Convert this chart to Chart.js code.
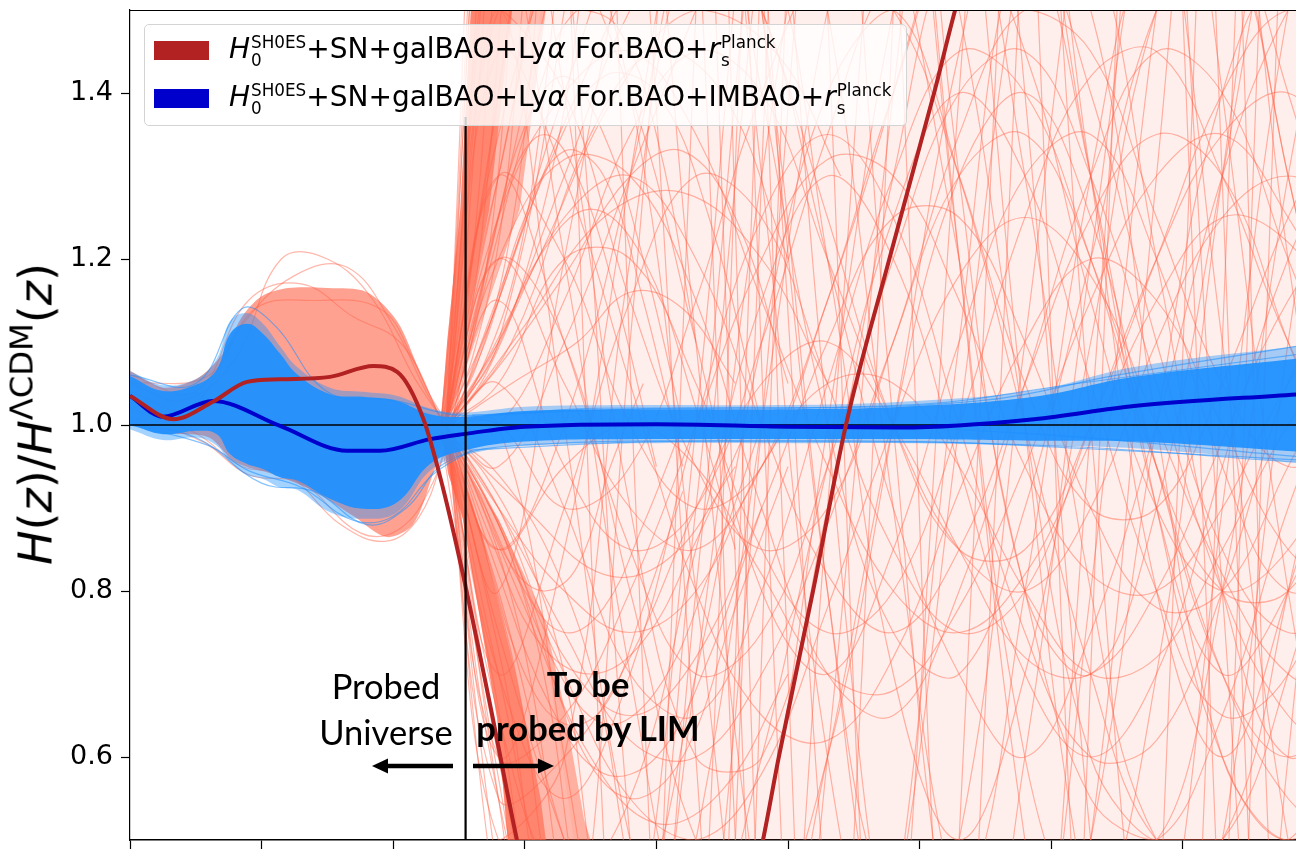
<!DOCTYPE html>
<html><head><meta charset="utf-8">
<script src="https://cdn.jsdelivr.net/npm/chart.js@4.4.1/dist/chart.umd.min.js"></script>
<style>
body{margin:0;background:#fff;}
#wrap{position:relative;width:1296px;height:858px;overflow:hidden;background:#fff;}
#c{position:absolute;left:0;top:0;}
#ytitle{position:absolute;left:38px;top:414px;transform:translate(-50%,-50%) rotate(-90deg);white-space:nowrap;font-family:'DejaVu Sans',sans-serif;font-size:46px;line-height:46px;color:#000;}
#ytitle sup{font-size:0.7em;vertical-align:baseline;position:relative;top:-0.6em;}
#legend{position:absolute;left:144px;top:24px;width:761px;height:100px;background:rgba(255,255,255,0.8);border:1px solid #d4d4d4;border-radius:5px;font-family:'DejaVu Sans',sans-serif;font-size:28px;color:#000;}
.patch{position:absolute;left:9px;width:55px;height:19px;}
.lbl{position:absolute;left:84px;white-space:nowrap;line-height:28px;}
.ss{display:inline-block;vertical-align:-0.5em;font-size:0.6em;line-height:1.1;margin-left:1px;}
.ss span{display:block;}
.ann{position:absolute;width:300px;text-align:center;font-family:Lato,'Open Sans',sans-serif;font-size:34.5px;color:#000;white-space:nowrap;}
#arrows{position:absolute;left:0;top:0;}
</style></head><body>
<div id="wrap">
<canvas id="c" width="1296" height="858"></canvas>
<div id="ytitle"><i>H</i>(<i>z</i>)/<i>H</i><sup>ΛCDM</sup>(<i>z</i>)</div>
<div id="legend">
 <div class="patch" style="top:16px;background:#b22222"></div>
 <div class="lbl" style="top:8px"><i>H</i><span class="ss"><span>SH0ES</span><span>0</span></span>+SN+galBAO+Ly<i>α</i> For.BAO+<i>r</i><span class="ss"><span>Planck</span><span>s</span></span></div>
 <div class="patch" style="top:64px;background:#0000cd"></div>
 <div class="lbl" style="top:56px"><i>H</i><span class="ss"><span>SH0ES</span><span>0</span></span>+SN+galBAO+Ly<i>α</i> For.BAO+IMBAO+<i>r</i><span class="ss"><span>Planck</span><span>s</span></span></div>
</div>
<div class="ann" style="left:236px;top:663px;line-height:46px;">Probed<br>Universe</div>
<div class="ann" style="left:438px;top:662px;line-height:44px;font-weight:bold;">To be<br>probed by LIM</div>
<svg id="arrows" width="1296" height="858">
 <line x1="386" y1="766" x2="453" y2="766" stroke="#000" stroke-width="4.5"/>
 <polygon points="372,766 388,758.5 388,773.5" fill="#000"/>
 <line x1="473" y1="766" x2="540" y2="766" stroke="#000" stroke-width="4.5"/>
 <polygon points="554,766 538,758.5 538,773.5" fill="#000"/>
</svg>
</div>
<script>
// ---------- axis ticks ----------
const xTicks = [0, 1, 2, 3, 4, 5, 6, 7, 8];
const yTicks = [0.6, 0.8, 1.0, 1.2, 1.4];

// ---------- mean curves ----------
const blueMeanZ = [0, 0.25, 0.63, 1.14, 1.65, 1.90, 2.28, 2.53, 3.0, 4.0, 5.0, 5.86, 6.87, 7.63, 8.87];
const blueMeanH = [1.035, 1.010, 1.029, 0.999, 0.969, 0.969, 0.983, 0.989, 0.998, 1.001, 0.998, 0.997, 1.007, 1.023, 1.037];
const redMeanZ = [0, 0.33, 0.63, 0.89, 1.14, 1.52, 1.85, 2.03, 2.23, 2.38, 2.53, 2.74, 2.94, 3.3, 3.9, 4.4, 4.81, 4.93, 5.19, 5.44, 5.77, 6.11, 6.27, 7.0, 8.0, 9.0];
const redMeanH = [1.035, 1.007, 1.028, 1.052, 1.055, 1.058, 1.071, 1.064, 1.007, 0.923, 0.82, 0.66, 0.5, 0.25, 0.08, 0.2, 0.5, 0.6, 0.8, 1.0, 1.2, 1.4, 1.5, 1.9, 2.4, 2.9];

// ---------- blue sample band ----------
const blueBandZ = [0, 0.25, 0.51, 0.66, 0.76, 0.89, 1.01, 1.14, 1.27, 1.52, 1.77, 2.03, 2.28, 2.53, 3.0, 4.0, 5.0, 5.86, 6.87, 7.63, 8.87];
const blueCoreHi = [1.059, 1.041, 1.049, 1.067, 1.110, 1.122, 1.110, 1.086, 1.061, 1.037, 1.034, 1.029, 1.013, 1.010, 1.017, 1.019, 1.019, 1.022, 1.034, 1.058, 1.080];
const blueCoreLo = [1.001, 0.989, 0.993, 0.989, 0.965, 0.953, 0.947, 0.937, 0.933, 0.911, 0.899, 0.907, 0.953, 0.969, 0.980, 0.983, 0.983, 0.983, 0.981, 0.980, 0.968];
const blueOuterHi = [1.065, 1.048, 1.056, 1.080, 1.125, 1.135, 1.122, 1.095, 1.070, 1.045, 1.040, 1.035, 1.020, 1.015, 1.022, 1.024, 1.024, 1.028, 1.042, 1.070, 1.095];
const blueOuterLo = [0.995, 0.982, 0.985, 0.975, 0.955, 0.940, 0.935, 0.925, 0.922, 0.895, 0.887, 0.895, 0.945, 0.963, 0.975, 0.978, 0.978, 0.978, 0.975, 0.972, 0.955];
const blueLines = [
 [[0,1.06],[0.5,1.05],[0.85,1.14],[1.1,1.12],[1.5,1.04],[2.0,1.03],[2.5,1.012],[3.5,1.02],[5,1.02],[6.5,1.03],[7.5,1.06],[8.87,1.095]],
 [[0,1.0],[0.5,0.985],[1.0,0.93],[1.4,0.92],[1.8,0.88],[2.1,0.9],[2.4,0.955],[3.0,0.976],[5,0.98],[7,0.975],[8.87,0.955]],
 [[0,1.0],[0.6,0.975],[0.9,0.945],[1.3,0.925],[1.7,0.885],[2.0,0.89],[2.3,0.94],[2.6,0.97]],
 [[2.6,0.97],[4,0.98],[6,0.98],[7.2,0.972],[8.87,0.958]],
 [[2.6,1.012],[4,1.02],[6,1.025],[7.2,1.05],[8.87,1.085]],
 [[2.6,1.0],[5,1.0],[6.8,0.99],[8.87,0.962]]
];

// ---------- red samples: dense regions ----------
const redLeftBand = [[0,1.065],[0.25,1.045],[0.5,1.055],[0.7,1.085],[0.85,1.13],[1.0,1.155],[1.2,1.165],[1.5,1.165],[1.8,1.16],[2.03,1.125],[2.2,1.065],[2.33,1.02],[2.4,1.005],[2.4,0.99],[2.3,0.94],[2.15,0.88],[1.95,0.865],[1.7,0.89],[1.4,0.92],[1.1,0.94],[0.8,0.955],[0.6,0.985],[0.3,0.99],[0,1.0]];
const redFanUpDense = [[2.36,1.0],[2.41,1.1],[2.51,1.26],[2.59,1.5],[2.62,1.62],[2.97,1.62],[2.9,1.5],[2.73,1.26],[2.53,1.1],[2.4,1.0]];
const redFanUpOuter = [[2.36,1.0],[2.41,1.1],[2.51,1.26],[2.59,1.5],[2.62,1.62],[3.25,1.62],[3.16,1.5],[2.96,1.26],[2.62,1.1],[2.45,1.02],[2.38,1.0]];
const redFanDownDense = [[2.36,0.995],[2.42,0.94],[2.53,0.887],[2.79,0.646],[2.87,0.5],[2.9,0.45],[3.2,0.45],[3.12,0.55],[2.93,0.7],[2.67,0.87],[2.45,0.97]];
const redFanDownOuter = [[2.36,0.995],[2.42,0.94],[2.53,0.887],[2.79,0.646],[2.87,0.5],[2.9,0.45],[3.6,0.45],[3.45,0.525],[3.3,0.66],[3.15,0.766],[2.8,0.887],[2.6,0.935],[2.42,0.985]];
const redBackdrop = [[2.45,1.02],[2.62,1.1],[2.94,1.26],[3.12,1.5],[3.2,1.62],[9.0,1.62],[9.0,0.4],[3.45,0.4],[3.35,0.525],[3.12,0.766],[2.79,0.887],[2.6,0.935],[2.45,0.98]];

// ---------- red samples: individual curves ----------
const redLeftLines = [
 [[0,1.05],[0.4,1.03],[0.8,1.08],[1.15,1.2],[1.5,1.2],[1.85,1.15],[2.15,1.06],[2.4,1.0]],
 [[0,1.04],[0.45,1.02],[0.85,1.12],[1.25,1.18],[1.65,1.19],[2.0,1.12],[2.25,1.04],[2.4,1.0]],
 [[0,1.06],[0.5,1.04],[0.9,1.15],[1.3,1.17],[1.7,1.13],[2.05,1.1],[2.3,1.03],[2.42,1.0]],
 [[0,1.02],[0.5,0.99],[0.85,0.95],[1.2,0.94],[1.6,0.88],[1.95,0.86],[2.2,0.89],[2.4,0.97]],
 [[0,1.01],[0.55,0.98],[0.9,0.94],[1.3,0.93],[1.75,0.87],[2.05,0.875],[2.3,0.93],[2.42,0.99]],
 [[0,1.05],[0.6,1.06],[0.95,1.14],[1.4,1.15],[1.9,1.14],[2.15,1.08],[2.35,1.01]]
];
const redFanUpLines = [
 [[2.36,1.0],[2.45,1.15],[2.52,1.32],[2.58,1.5],[2.62,1.62]],
 [[2.36,1.0],[2.47,1.14],[2.56,1.32],[2.63,1.5],[2.67,1.62]],
 [[2.37,1.0],[2.5,1.12],[2.6,1.3],[2.69,1.5],[2.73,1.6]],
 [[2.38,1.0],[2.52,1.1],[2.65,1.28],[2.75,1.5],[2.8,1.6]],
 [[2.38,1.0],[2.55,1.1],[2.7,1.27],[2.82,1.5],[2.87,1.6]],
 [[2.39,1.0],[2.58,1.09],[2.76,1.25],[2.9,1.5],[2.95,1.6]],
 [[2.4,1.0],[2.6,1.08],[2.82,1.24],[2.98,1.5],[3.03,1.6]],
 [[2.4,1.0],[2.63,1.07],[2.88,1.22],[3.06,1.45],[3.12,1.6]],
 [[2.41,1.0],[2.68,1.07],[2.95,1.2],[3.15,1.4],[3.25,1.55]],
 [[2.42,1.0],[2.7,1.06],[3.0,1.18],[3.3,1.38],[3.45,1.55]],
 [[2.42,1.0],[2.75,1.08],[3.1,1.2],[3.5,1.26],[3.9,1.2],[4.3,1.02],[4.6,0.85]],
 [[2.42,1.0],[2.8,1.07],[3.3,1.18],[3.8,1.3],[4.2,1.33],[4.6,1.25],[5.0,1.05]],
 [[2.43,1.0],[2.9,1.05],[3.4,1.1],[3.8,1.16],[4.2,1.14],[4.6,1.05]],
 [[2.42,1.0],[2.7,1.1],[3.0,1.25],[3.3,1.33],[3.6,1.3],[3.9,1.15],[4.2,0.95]],
 [[2.42,1.0],[2.9,1.1],[3.5,1.35],[4.0,1.45],[4.5,1.4],[5.0,1.2]],
 [[2.45,1.0],[2.8,1.15],[3.2,1.32],[3.6,1.42],[4.0,1.4],[4.4,1.25],[4.8,1.0]],
 [[2.45,1.0],[2.75,1.2],[3.1,1.4],[3.4,1.5],[3.7,1.48],[4.0,1.35],[4.3,1.1]],
 [[2.44,1.0],[2.7,1.18],[3.0,1.36],[3.3,1.42],[3.6,1.35],[3.9,1.2],[4.2,1.0]],
 [[2.45,1.0],[2.9,1.2],[3.4,1.4],[3.9,1.55],[4.3,1.6]],
 [[2.44,1.0],[2.65,1.15],[2.9,1.3],[3.15,1.35],[3.4,1.3],[3.7,1.15],[4.0,0.95]],
 [[2.45,1.0],[3.0,1.12],[3.6,1.25],[4.2,1.28],[4.8,1.2],[5.3,1.05]],
 [[2.46,1.0],[3.1,1.2],[3.7,1.4],[4.3,1.5],[4.9,1.45],[5.4,1.3]]
];
const redFanDownLines = [
 [[2.36,0.99],[2.45,0.9],[2.6,0.76],[2.75,0.62],[2.88,0.5],[2.93,0.44]],
 [[2.37,0.99],[2.48,0.91],[2.65,0.78],[2.82,0.64],[2.95,0.5],[3.0,0.44]],
 [[2.38,0.99],[2.52,0.92],[2.7,0.8],[2.9,0.65],[3.03,0.5],[3.08,0.44]],
 [[2.39,0.99],[2.56,0.92],[2.78,0.8],[2.98,0.66],[3.12,0.5],[3.17,0.44]],
 [[2.4,0.99],[2.6,0.93],[2.85,0.82],[3.07,0.67],[3.22,0.5],[3.27,0.44]],
 [[2.41,0.99],[2.65,0.93],[2.92,0.83],[3.17,0.68],[3.33,0.5],[3.38,0.44]],
 [[2.42,0.99],[2.7,0.94],[3.0,0.85],[3.3,0.7],[3.48,0.5],[3.53,0.44]],
 [[2.42,0.99],[2.8,0.94],[3.2,0.84],[3.55,0.68],[3.75,0.5],[3.8,0.44]],
 [[2.42,0.99],[2.7,0.9],[3.0,0.8],[3.3,0.75],[3.6,0.78],[3.9,0.88],[4.2,1.0]],
 [[2.42,0.99],[2.8,0.88],[3.2,0.72],[3.6,0.64],[4.0,0.68],[4.4,0.82],[4.8,1.0]],
 [[2.42,0.99],[2.65,0.92],[2.9,0.83],[3.15,0.8],[3.4,0.83],[3.65,0.95],[3.9,1.05]],
 [[2.42,0.99],[2.9,0.85],[3.4,0.62],[3.8,0.55],[4.2,0.6],[4.6,0.78],[5.0,0.95]],
 [[2.42,0.99],[3.0,0.9],[3.6,0.82],[4.1,0.84],[4.6,0.95]],
 [[2.44,0.99],[2.8,0.82],[3.2,0.66],[3.6,0.58],[4.0,0.6],[4.4,0.72],[4.8,0.9]],
 [[2.44,0.99],[2.75,0.86],[3.1,0.74],[3.5,0.7],[3.9,0.74],[4.3,0.86],[4.7,1.0]],
 [[2.45,0.99],[3.0,0.78],[3.5,0.6],[4.0,0.52],[4.5,0.56],[5.0,0.7]],
 [[2.44,0.99],[2.7,0.85],[3.0,0.7],[3.3,0.64],[3.6,0.66],[3.9,0.78],[4.2,0.92]]
];
const wanderZ = [2.4, 2.8, 3.3, 3.8, 4.3, 4.8, 5.3, 5.8, 6.3, 6.8, 7.3, 7.8, 8.3, 8.8, 9.3];
const wanderH = [
 [1.0, 1.1, 1.3, 1.5, 1.6, 1.5, 1.2, 0.9, 0.7, 0.6, 0.75, 1.0, 1.3, 1.5, 1.6],
 [1.0, 0.9, 0.75, 0.62, 0.6, 0.7, 0.88, 1.1, 1.3, 1.35, 1.2, 0.95, 0.7, 0.55, 0.5],
 [1.0, 1.2, 1.32, 1.3, 1.15, 0.9, 0.7, 0.65, 0.8, 1.05, 1.3, 1.45, 1.4, 1.2, 1.0],
 [1.0, 1.4, 2.0, 2.6, 2.4, 1.6, 0.4, -0.4, -0.5, 0.0, 1.0, 2.0, 2.5, 2.5, 2.3],
 [1.0, 0.6, 0.2, -0.3, 0.2, 1.0, 1.9, 2.4, 2.2, 1.4, 0.5, -0.2, -0.3, 0.4, 1.2],
 [1.0, 0.8, 0.5, 0.3, 0.9, 1.7, 2.2, 2.0, 1.3, 0.8, 0.7, 0.9, 1.3, 1.7, 1.9],
 [1.0, 1.3, 1.6, 1.4, 0.8, 0.2, 0.0, 0.4, 1.1, 1.6, 1.5, 1.0, 0.6, 0.5, 0.7],
 [1.0, 0.7, 0.55, 0.7, 1.0, 1.25, 1.35, 1.25, 1.0, 0.75, 0.6, 0.62, 0.8, 1.05, 1.2],
 [1.0, 1.5, 1.4, 1.15, 0.95, 0.85, 0.9, 1.1, 1.35, 1.5, 1.45, 1.25, 1.05, 0.95, 1.0],
 [1.0, 0.6, 0.85, 1.3, 1.8, 2.3, 2.5, 2.0, 1.2, 0.5, 0.1, 0.3, 0.9, 1.5, 1.8],
 [1.0, 1.0, 0.6, 0.1, -0.3, -0.1, 0.6, 1.4, 1.9, 1.8, 1.3, 0.8, 0.6, 0.8, 1.1],
 [1.0, 1.2, 1.05, 0.9, 0.85, 0.95, 1.15, 1.4, 1.7, 2.1, 2.3, 2.0, 1.4, 0.8, 0.4],
 [1.0, 0.8, 1.2, 1.6, 1.9, 1.5, 0.8, 0.3, 0.2, 0.6, 1.2, 1.7, 1.9, 1.6, 1.1],
 [1.0, 1.6, 1.2, 0.7, 0.35, 0.3, 0.6, 1.0, 1.3, 1.4, 1.25, 0.95, 0.7, 0.6, 0.7],
 [1.0, 1.0, 1.15, 1.35, 1.45, 1.4, 1.2, 1.0, 0.85, 0.8, 0.9, 1.1, 1.25, 1.3, 1.25],
 [1.0, 0.9, 0.8, 0.75, 0.8, 0.95, 1.05, 1.05, 0.95, 0.8, 0.7, 0.72, 0.85, 1.0, 1.1],
 [1.0, 2.0, 2.4, 1.8, 0.6, -0.4, -0.6, 0.2, 1.4, 2.3, 2.6, 2.0, 0.8, -0.2, -0.5],
 [1.0, 0.55, 0.3, 1.1, 2.0, 2.5, 2.0, 1.0, 0.3, 0.1, 0.5, 1.3, 2.1, 2.4, 2.2],
 [1.0, 1.3, 1.1, 0.85, 0.7, 0.75, 0.95, 1.2, 1.4, 1.45, 1.3, 1.05, 0.8, 0.65, 0.6],
 [1.0, 0.7, 0.9, 1.15, 1.3, 1.25, 1.05, 0.85, 0.75, 0.8, 1.0, 1.2, 1.35, 1.4, 1.3],
 [1.0, 1.1, 1.5, 2.1, 2.4, 1.9, 1.0, 0.3, 0.0, 0.2, 0.8, 1.5, 2.0, 2.2, 2.0],
 [1.0, 0.55, 0.1, 0.2, 0.7, 1.3, 1.7, 1.8, 1.5, 1.0, 0.6, 0.5, 0.8, 1.3, 1.7],
 [1.0, 1.45, 1.3, 1.05, 0.8, 0.65, 0.62, 0.72, 0.92, 1.1, 1.2, 1.15, 1.0, 0.85, 0.8],
 [1.0, 0.6, 0.65, 0.8, 1.0, 1.2, 1.32, 1.3, 1.15, 0.95, 0.82, 0.8, 0.9, 1.05, 1.15],
 [1.0, 2.0, 1.6, 0.5, -0.2, 0.0, 0.9, 1.9, 2.4, 2.0, 1.0, 0.2, 0.0, 0.6, 1.5],
 [1.0, 0.5, 0.6, 1.2, 1.6, 1.6, 1.2, 0.7, 0.5, 0.7, 1.1, 1.5, 1.6, 1.3, 0.9],
 [1.0, 1.0, 0.9, 0.95, 1.15, 1.4, 1.55, 1.5, 1.3, 1.05, 0.9, 0.9, 1.05, 1.25, 1.4],
 [1.0, 1.25, 1.4, 1.45, 1.35, 1.15, 0.95, 0.8, 0.75, 0.82, 0.98, 1.15, 1.25, 1.22, 1.1],
 [1.0, 0.55, 0.6, 0.72, 0.9, 1.05, 1.1, 1.0, 0.85, 0.72, 0.7, 0.8, 0.98, 1.15, 1.25],
 [1.0, 1.8, 1.4, 0.9, 0.6, 0.6, 0.9, 1.3, 1.6, 1.6, 1.3, 0.9, 0.6, 0.5, 0.6],
 [1.0, 0.45, 0.0, 0.1, 0.8, 1.6, 2.2, 2.3, 1.8, 1.0, 0.4, 0.2, 0.5, 1.1, 1.6],
 [1.0, 1.05, 1.2, 1.2, 1.05, 0.85, 0.75, 0.8, 1.0, 1.25, 1.42, 1.45, 1.3, 1.1, 0.95],
 [1.0, 0.95, 1.1, 1.3, 1.5, 1.7, 1.8, 1.6, 1.2, 0.8, 0.55, 0.5, 0.65, 0.9, 1.1],
 [1.0, 1.5, 1.0, 0.5, 0.3, 0.5, 1.0, 1.5, 1.8, 1.7, 1.3, 0.9, 0.7, 0.8, 1.0],
 [1.0, 0.85, 0.95, 1.0, 0.95, 0.82, 0.7, 0.68, 0.78, 0.95, 1.15, 1.3, 1.35, 1.25, 1.1],
 [1.0, 1.15, 0.95, 0.85, 0.9, 1.1, 1.35, 1.55, 1.6, 1.45, 1.15, 0.9, 0.8, 0.85, 1.0],
 [1.0, 1.3, 1.7, 2.2, 2.0, 1.3, 0.6, 0.3, 0.5, 1.1, 1.7, 2.0, 1.8, 1.2, 0.7],
 [1.0, 0.7, 0.4, 0.4, 0.7, 1.1, 1.4, 1.5, 1.3, 1.0, 0.7, 0.5, 0.5, 0.7, 1.0],
 [1.0, 1.2, 1.1, 0.8, 0.5, 0.4, 0.6, 1.0, 1.45, 1.7, 1.6, 1.2, 0.8, 0.6, 0.7],
 [1.0, 0.85, 1.0, 1.3, 1.65, 1.8, 1.5, 0.9, 0.4, 0.2, 0.5, 1.0, 1.4, 1.55, 1.4],
 [1.0, 1.35, 1.55, 1.4, 1.1, 0.8, 0.7, 0.85, 1.1, 1.3, 1.35, 1.2, 0.95, 0.8, 0.85],
 [1.0, 0.65, 0.45, 0.55, 0.85, 1.15, 1.3, 1.2, 0.95, 0.7, 0.6, 0.7, 0.95, 1.2, 1.35],
 [1.0, 1.7, 2.2, 1.9, 1.1, 0.4, 0.1, 0.4, 1.0, 1.6, 1.9, 1.7, 1.1, 0.5, 0.2],
 [1.0, 0.4, 0.0, 0.3, 1.0, 1.8, 2.2, 1.9, 1.2, 0.6, 0.4, 0.7, 1.3, 1.8, 2.0],
 [1.0, 1.1, 1.25, 1.3, 1.2, 1.0, 0.82, 0.75, 0.85, 1.05, 1.25, 1.35, 1.3, 1.1, 0.9],
 [1.0, 0.9, 0.72, 0.65, 0.72, 0.9, 1.1, 1.25, 1.25, 1.1, 0.9, 0.78, 0.8, 0.95, 1.1],
 [1.0, 1.25, 1.6, 1.9, 1.8, 1.4, 1.0, 0.75, 0.7, 0.9, 1.2, 1.5, 1.6, 1.4, 1.1],
 [1.0, 0.75, 0.5, 0.3, 0.35, 0.6, 0.95, 1.25, 1.4, 1.3, 1.05, 0.8, 0.65, 0.7, 0.9],
 [1.0, 1.05, 0.9, 0.7, 0.65, 0.8, 1.05, 1.3, 1.45, 1.4, 1.2, 0.95, 0.8, 0.8, 0.95],
 [1.0, 1.4, 1.9, 2.3, 2.1, 1.5, 0.8, 0.4, 0.4, 0.8, 1.3, 1.6, 1.6, 1.3, 0.9],
 [1.0, 0.6, 0.3, 0.2, 0.5, 1.0, 1.5, 1.8, 1.7, 1.3, 0.8, 0.5, 0.5, 0.8, 1.2],
 [1.0, 1.15, 1.4, 1.6, 1.65, 1.5, 1.25, 1.0, 0.85, 0.85, 1.0, 1.2, 1.4, 1.5, 1.45],
 [1.0, 0.88, 0.7, 0.55, 0.5, 0.58, 0.78, 1.0, 1.18, 1.25, 1.18, 1.0, 0.82, 0.7, 0.68],
 [1.0, 1.3, 1.2, 1.0, 0.9, 0.95, 1.15, 1.4, 1.6, 1.6, 1.4, 1.1, 0.85, 0.75, 0.8]
];
const redSteepLines = [
 [[4.0,2.5],[4.35,1.5],[4.6,0.5],[4.9,-0.3]],
 [[4.1,-0.3],[4.4,0.5],[4.65,1.5],[4.95,2.4]],
 [[4.3,2.6],[4.55,1.5],[4.75,0.5],[5.0,-0.4]],
 [[4.4,-0.4],[4.6,0.5],[4.85,1.5],[5.1,2.5]],
 [[7.7,2.5],[8.0,1.5],[8.25,0.5],[8.5,-0.3]],
 [[7.9,-0.3],[8.15,0.5],[8.4,1.5],[8.7,2.5]],
 [[8.2,2.5],[8.45,1.5],[8.65,0.5],[8.9,-0.3]],
 [[6.2,-0.3],[6.45,0.5],[6.75,1.5],[7.0,2.4]],
 [[3.5,2.5],[3.7,1.5],[3.95,0.5],[4.2,-0.3]],
 [[5.5,2.5],[5.85,1.5],[6.1,0.5],[6.4,-0.3]],
 [[7.0,-0.3],[7.25,0.5],[7.5,1.5],[7.8,2.4]],
 [[4.5,2.5],[4.7,1.5],[4.95,0.5],[5.2,-0.3]],
 [[4.2,2.6],[4.45,1.5],[4.68,0.5],[4.95,-0.4]],
 [[4.55,-0.4],[4.75,0.5],[4.98,1.5],[5.25,2.5]],
 [[4.35,-0.3],[4.55,0.5],[4.78,1.5],[5.0,2.4]],
 [[4.6,2.6],[4.82,1.5],[5.05,0.5],[5.3,-0.4]],
 [[8.0,2.6],[8.25,1.5],[8.5,0.5],[8.75,-0.4]],
 [[8.1,-0.4],[8.35,0.5],[8.58,1.5],[8.85,2.5]],
 [[8.3,-0.3],[8.5,0.5],[8.72,1.5],[9.0,2.5]],
 [[7.6,-0.3],[7.85,0.5],[8.1,1.5],[8.35,2.5]],
 [[5.0,2.5],[5.3,1.5],[5.55,0.5],[5.85,-0.3]],
 [[6.6,2.5],[6.9,1.5],[7.15,0.5],[7.45,-0.3]],
 [[3.8,-0.3],[4.05,0.5],[4.3,1.5],[4.6,2.4]],
 [[6.0,-0.3],[6.3,0.5],[6.6,1.5],[6.9,2.4]],
 [[3.1,2.5],[3.35,1.5],[3.6,0.5],[3.9,-0.3]],
 [[5.2,-0.3],[5.5,0.5],[5.8,1.5],[6.1,2.4]]
];

// ---------- reference lines ----------
const probedLimitZ = 2.55;
const probedLineH = [0.5, 1.371];
const lcdmLevel = 1.0;

// ---------- build datasets ----------
const X_MAX = 8.86;
const TOMATO_LINE = 'rgba(255,99,71,0.46)';
const NONE = 'rgba(0,0,0,0)';
const pairs = arr => arr.map(p => ({x: p[0], y: p[1]}));
const zip = (xs, ys) => xs.map((x, i) => ({x: x, y: ys[i]}));
const datasets = [];
function add(data, o) {
  datasets.push(Object.assign({data: data, pointRadius: 0, pointHoverRadius: 0, borderWidth: 1.2, fill: false, tension: 0.4}, o));
}
// red (bottom layer)
add(pairs(redBackdrop), {borderWidth: 0, borderColor: NONE, backgroundColor: 'rgba(255,99,71,0.1)', fill: 'shape', tension: 0, order: 22});
add(pairs(redLeftBand), {borderWidth: 0, borderColor: NONE, backgroundColor: 'rgba(255,99,71,0.6)', fill: 'shape', tension: 0.3, order: 20});
add(pairs(redFanUpOuter), {borderWidth: 0, borderColor: NONE, backgroundColor: 'rgba(255,99,71,0.45)', fill: 'shape', tension: 0, order: 20});
add(pairs(redFanUpDense), {borderWidth: 0, borderColor: NONE, backgroundColor: 'rgba(255,99,71,0.6)', fill: 'shape', tension: 0, order: 19});
add(pairs(redFanDownOuter), {borderWidth: 0, borderColor: NONE, backgroundColor: 'rgba(255,99,71,0.45)', fill: 'shape', tension: 0, order: 20});
add(pairs(redFanDownDense), {borderWidth: 0, borderColor: NONE, backgroundColor: 'rgba(255,99,71,0.6)', fill: 'shape', tension: 0, order: 19});
redLeftLines.forEach(l => add(pairs(l), {borderColor: TOMATO_LINE, order: 15}));
redFanUpLines.forEach(l => add(pairs(l), {borderColor: TOMATO_LINE, order: 15}));
redFanDownLines.forEach(l => add(pairs(l), {borderColor: TOMATO_LINE, order: 15}));
wanderH.forEach(h => add(zip(wanderZ, h), {borderColor: TOMATO_LINE, order: 15}));
redSteepLines.forEach(l => add(pairs(l), {borderColor: TOMATO_LINE, order: 15}));
// blue samples
add(zip(blueBandZ, blueOuterLo), {borderWidth: 0, borderColor: NONE, order: 9});
add(zip(blueBandZ, blueOuterHi), {borderWidth: 0, borderColor: NONE, backgroundColor: 'rgba(30,144,255,0.4)', fill: '-1', order: 9});
add(zip(blueBandZ, blueCoreLo), {borderWidth: 0, borderColor: NONE, order: 8});
add(zip(blueBandZ, blueCoreHi), {borderWidth: 0, borderColor: NONE, backgroundColor: 'rgba(30,144,255,0.92)', fill: '-1', order: 8});
blueLines.forEach(l => add(pairs(l), {borderColor: 'rgba(30,144,255,0.55)', order: 7}));
// reference horizontal line
add([{x: 0, y: lcdmLevel}, {x: X_MAX, y: lcdmLevel}], {borderColor: '#000', borderWidth: 1.6, tension: 0, order: 4});
// means
add(zip(blueMeanZ, blueMeanH), {borderColor: '#0000cd', borderWidth: 4, cubicInterpolationMode: 'monotone', order: 3});
add(zip(redMeanZ, redMeanH), {borderColor: '#b22222', borderWidth: 4, cubicInterpolationMode: 'monotone', order: 2});
// probed limit
add([{x: probedLimitZ, y: probedLineH[0]}, {x: probedLimitZ, y: probedLineH[1]}], {borderColor: '#000', borderWidth: 2.2, tension: 0, order: 1});

const framePlugin = {
  id: 'frame',
  afterDatasetsDraw(chart) {
    const a = chart.chartArea, ctx = chart.ctx;
    ctx.save();
    ctx.strokeStyle = '#000'; ctx.lineWidth = 1.2;
    ctx.beginPath(); ctx.moveTo(a.left, a.top + 0.5); ctx.lineTo(a.right, a.top + 0.5); ctx.stroke();
    ctx.restore();
  }
};

Chart.defaults.font.family = "'DejaVu Sans', sans-serif";
new Chart(document.getElementById('c'), {
  type: 'line',
  data: {datasets: datasets},
  options: {
    responsive: false, animation: false, devicePixelRatio: 1, events: [],
    layout: {padding: {top: 10, left: 0, right: 0, bottom: 0}},
    plugins: {legend: {display: false}, tooltip: {enabled: false}},
    scales: {
      x: {type: 'linear', min: 0, max: X_MAX, z: 1,
          afterBuildTicks: s => { s.ticks = xTicks.map(v => ({value: v})); },
          afterFit: s => { s.height = 18; s.paddingLeft = 0; s.paddingRight = 0; },
          ticks: {color: '#000', font: {size: 27}, padding: 6, maxRotation: 0, autoSkip: false, callback: v => String(v)},
          grid: {drawOnChartArea: false, drawTicks: true, tickLength: 9, color: '#000', tickWidth: 1.2},
          border: {display: true, color: '#000', width: 1.5}},
      y: {type: 'linear', min: 0.5, max: 1.5, z: 1,
          afterBuildTicks: s => { s.ticks = yTicks.map(v => ({value: v})); },
          afterFit: s => { s.width = 130; s.paddingTop = 0; s.paddingBottom = 0; },
          ticks: {color: '#000', font: {size: 27}, padding: 8, callback: v => v.toFixed(1)},
          grid: {drawOnChartArea: false, drawTicks: true, tickLength: 9, color: '#000', tickWidth: 1.2},
          border: {display: true, color: '#000', width: 1.2}}
    }
  },
  plugins: [framePlugin]
});
</script>
</body></html>
